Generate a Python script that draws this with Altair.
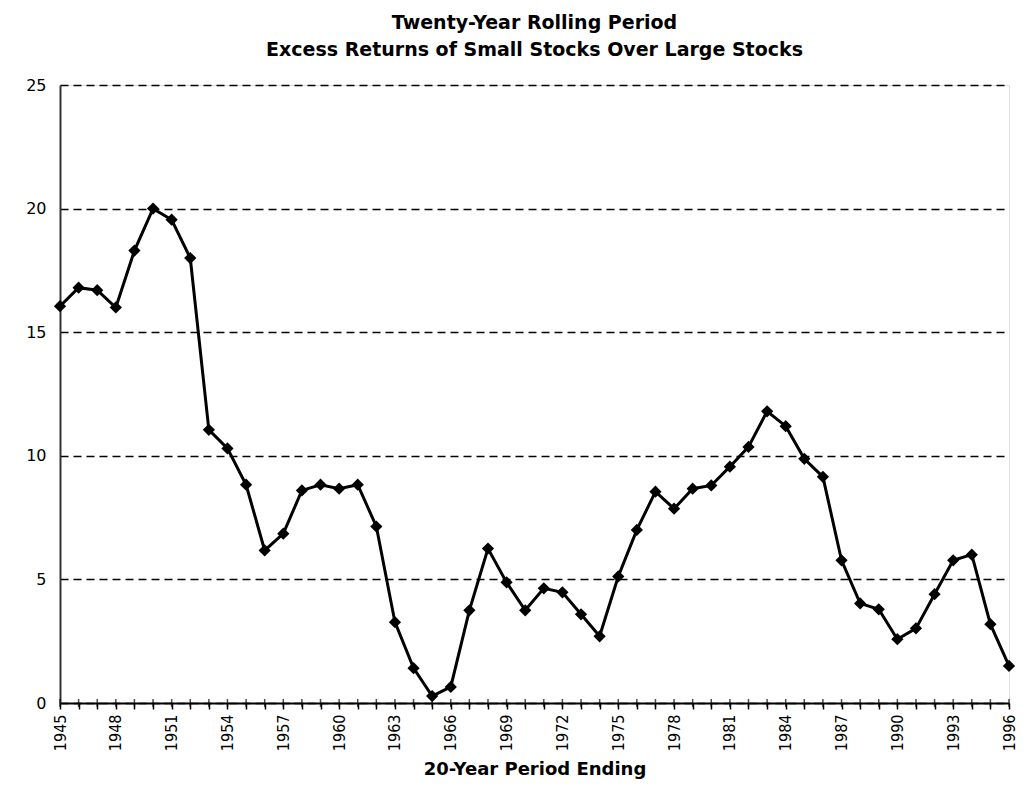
import altair as alt
import pandas as pd

years = list(range(1945, 1997))
excess = [16.05, 16.8, 16.7, 16.0, 18.3, 20.0, 19.55, 18.0, 11.05, 10.3,
          8.83, 6.17, 6.85, 8.6, 8.83, 8.67, 8.83, 7.14, 3.27, 1.41,
          0.28, 0.65, 3.75, 6.25, 4.88, 3.75, 4.64, 4.48, 3.59, 2.7,
          5.12, 7.0, 8.55, 7.86, 8.67, 8.8, 9.56, 10.36, 11.8, 11.2,
          9.88, 9.15, 5.77, 4.03, 3.79, 2.58, 3.02, 4.4, 5.77, 6.0,
          3.19, 1.5]
y_ticks = [0, 5, 10, 15, 20, 25]

df = pd.DataFrame({"Year": years, "Excess": excess})

FONT = "DejaVu Sans"
NARROW = "Liberation Sans Narrow, DejaVu Sans Condensed, sans-serif"

x_axis = alt.Axis(
    values=years,
    labelExpr="(datum.value - 1945) % 3 == 0 ? datum.label : ''",
    format="d",
    labelAngle=-90,
    labelAlign="right",
    labelBaseline="middle",
    labelOverlap=False,
    labelBound=False,
    labelFont=NARROW,
    labelFontSize=16,
    labelColor="black",
    labelPadding=5,
    tickColor="black",
    tickSize=6,
    tickWidth=1.5,
    domainColor="black",
    domainWidth=2,
    grid=False,
    title="20-Year Period Ending",
    titleFont=FONT,
    titleFontSize=18,
    titleFontWeight="bold",
    titleColor="black",
    titlePadding=10,
)
x_enc = alt.X("Year:Q", scale=alt.Scale(domain=[1945, 1996], nice=False, zero=False), axis=x_axis)

y_enc = alt.Y(
    "Excess:Q",
    scale=alt.Scale(domain=[0, 25], nice=False),
    axis=alt.Axis(
        values=y_ticks,
        ticks=False,
        labelFont=FONT,
        labelFontSize=16,
        labelColor="black",
        labelPadding=14,
        domainColor="#333333",
        domainWidth=2,
        grid=True,
        gridColor="black",
        gridOpacity=1,
        gridDash=[8, 5],
        gridWidth=1.3,
        title=None,
    ),
)

base = alt.Chart(df)

line = base.mark_line(color="black", strokeWidth=3).encode(x=x_enc, y=y_enc)
pts = base.mark_point(shape="diamond", filled=True, color="black", size=150, opacity=1).encode(
    x=x_enc, y=y_enc
)
cross_ticks = base.mark_tick(color="black", thickness=1.5, size=8, orient="vertical").encode(
    x=x_enc, y=alt.datum(0)
)

chart = alt.layer(line, pts, cross_ticks).properties(
    width=949,
    height=618,
    title=alt.TitleParams(
        text=["Twenty-Year Rolling Period", "Excess Returns of Small Stocks Over Large Stocks"],
        font=FONT,
        fontSize=19,
        fontWeight="bold",
        color="black",
        anchor="middle",
        lineHeight=27,
        offset=17,
    ),
    autosize=alt.AutoSizeParams(type="none"),
    padding={"left": 52, "top": 77, "right": 9, "bottom": 76},
).configure_view(stroke=None).configure(background="white")

chart.save("out.html", embed_options={"renderer": "svg", "actions": False})
